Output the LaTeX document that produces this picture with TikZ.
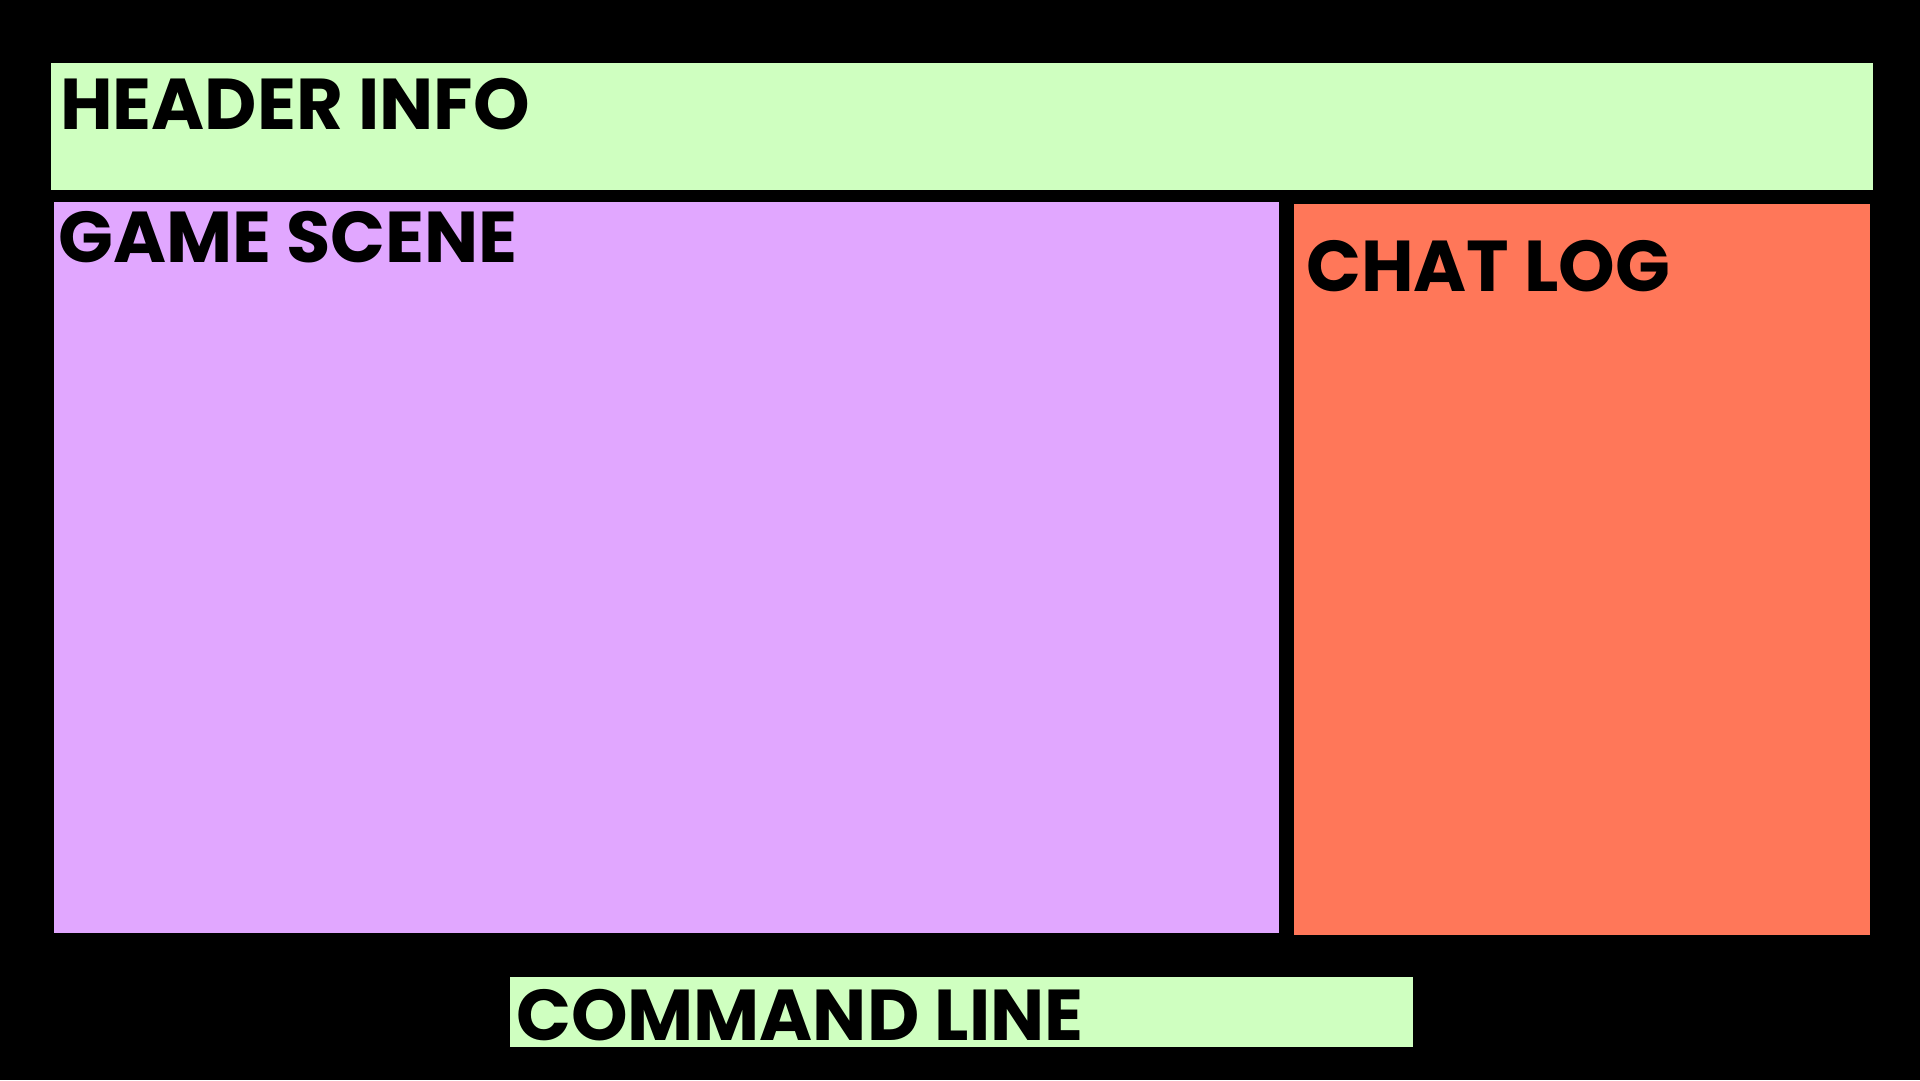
\documentclass[tikz,border=0pt]{standalone}
\usepackage{fontspec}
\newfontfamily\labelfont{Poppins}[UprightFont=* Bold]
\definecolor{mint}{HTML}{CFFFC0}
\definecolor{lilac}{HTML}{E1A7FF}
\definecolor{coral}{HTML}{FF7759}
\begin{document}
\begin{tikzpicture}[x=1pt,y=-1pt,
  panel/.style={rectangle, draw=none, inner sep=0pt, outer sep=0pt, anchor=north west},
  title/.style={inner sep=0pt, anchor=base west, font=\labelfont\fontsize{72}{72}\selectfont, text=black}]
\fill[black] (0,0) rectangle (1920,1080);
\useasboundingbox (0,0) rectangle (1920,1080);
\node[panel, fill=mint, minimum width=1822pt, minimum height=127pt] (header) at (51.4,63) {};
\node[panel, fill=lilac, minimum width=1225.5pt, minimum height=731pt] (game) at (53.5,202) {};
\node[panel, fill=coral, minimum width=576pt, minimum height=731pt] (chat) at (1294,204) {};
\node[panel, fill=mint, minimum width=903pt, minimum height=70pt] (cmd) at (510,977) {};
\node[title] (headert) at (60,129) {HEADER INFO};
\node[title] (gamet) at (58,262) {GAME SCENE};
\node[title] (chatt) at (1306,291) {CHAT LOG};
\node[title] (cmdt) at (516,1040) {COMMAND LINE};
\end{tikzpicture}
\end{document}
